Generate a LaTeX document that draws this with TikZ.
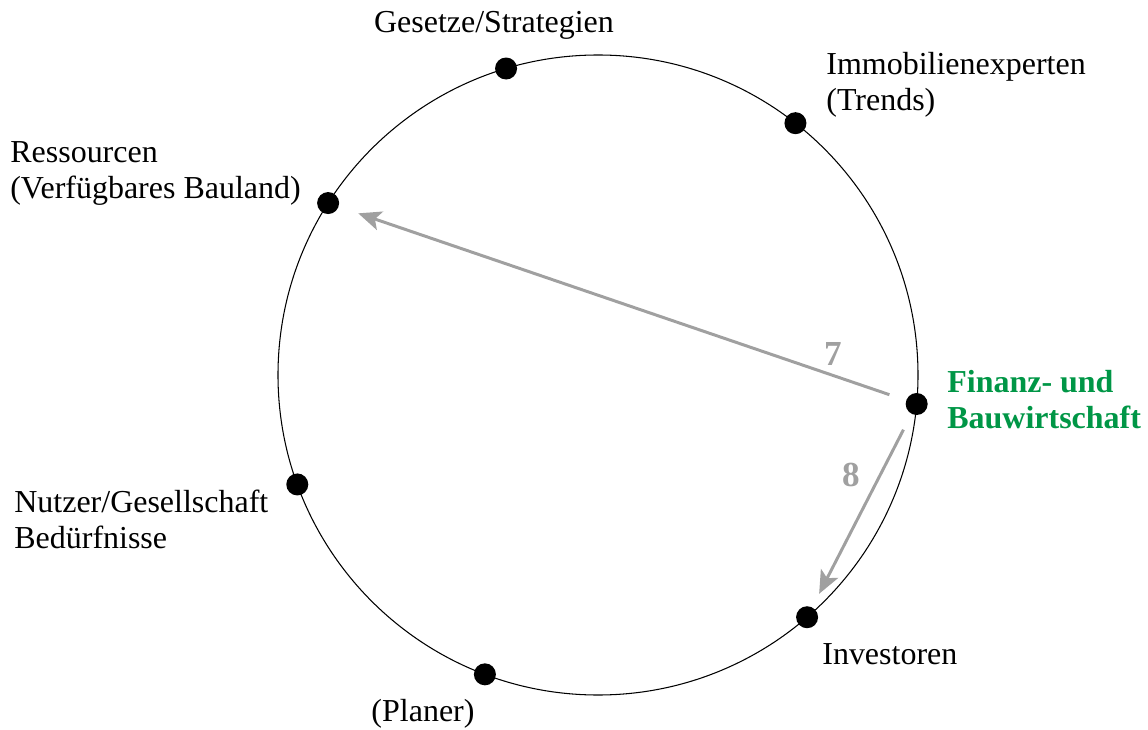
\documentclass[tikz,border=0pt]{standalone}
\usepackage{fontspec}
\setmainfont{Liberation Serif}
\usetikzlibrary{arrows.meta}
\definecolor{finanzgreen}{RGB}{0,150,70}
\definecolor{arrowgray}{RGB}{160,160,160}
\begin{document}
\begin{tikzpicture}[>={Stealth[length=13pt,width=11pt,inset=3pt]}, line join=round, font=\fontsize{18.2}{20.5}\selectfont,
		dot/.style={circle, fill=black, inner sep=0pt, minimum size=0.44cm},
		lbl/.style={inner sep=0pt, align=left},
		flow/.style={->, arrowgray, line width=1.7pt},
		num/.style={font=\fontsize{20}{22}\selectfont\bfseries, text=arrowgray}]
		\useasboundingbox (-11.96,-7.08) rectangle (11.0,7.5);
		% The circle of actors
		\draw[line width=0.6pt] (0,0) circle (6.4);
		% Dots on the circle
		\node[dot] (gesetze) at (106.7:6.4) {};
		\node[dot] (immo) at (51.9:6.4) {};
		\node[dot] (ressourcen) at (147.5:6.4) {};
		\node[dot] (finanz) at (-5.2:6.4) {};
		\node[dot] (investoren) at (-49.2:6.4) {};
		\node[dot] (planer) at (-110.7:6.4) {};
		\node[dot] (nutzer) at (-160:6.4) {};
		% Labels
		\node[lbl] (gesetzeL) at (-2.08, 7.0) {Gesetze/Strategien};
		\node[lbl, anchor=west] (immoL) at (4.56, 5.8) {Immobilienexperten\\(Trends)};
		\node[lbl, anchor=west] (ressourcenL) at (-11.76, 4.04) {Ressourcen\\(Verfügbares Bauland)};
		\node[lbl, anchor=west, font=\fontsize{18.2}{20.5}\selectfont\bfseries, text=finanzgreen] (finanzL) at (6.98, -0.5) {Finanz- und\\Bauwirtschaft};
		\node[lbl, anchor=west] (investorenL) at (4.48, -5.58) {Investoren};
		\node[lbl] (planerL) at (-3.5, -6.78) {(Planer)};
		\node[lbl, anchor=west] (nutzerL) at (-11.68, -2.88) {Nutzer/Gesellschaft\\Bedürfnisse};
		% Flows out of the finance node
		\draw[flow, shorten <=0.35cm, shorten >=0.41cm] (finanz) -- (ressourcen);
		\draw[flow, shorten <=0.35cm, shorten >=0.3cm] (finanz) -- (investoren);
		\node[num] (seven) at (4.7, 0.42) {7};
		\node[num] (eight) at (5.06, -2.0) {8};
	\end{tikzpicture}
\end{document}
